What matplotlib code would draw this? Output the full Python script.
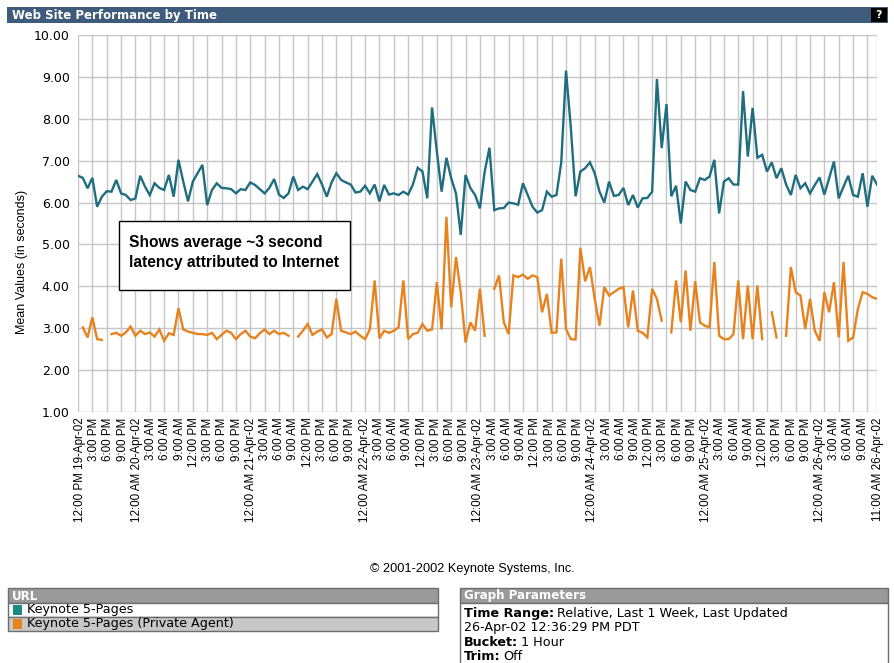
import numpy as np
import matplotlib
matplotlib.use("Agg")
import matplotlib.pyplot as plt
from matplotlib.patches import Rectangle
from matplotlib.transforms import ScaledTranslation

W, H = 895, 663

# Hourly buckets: 12:00 PM 19-Apr-02 (hour 0) through 11:00 AM 26-Apr-02 (hour 167)
hours = np.arange(168)

keynote_5_pages = [
    6.64, 6.59, 6.34, 6.59, 5.90, 6.14, 6.27, 6.26, 6.54, 6.22,
    6.18, 6.06, 6.10, 6.64, 6.38, 6.18, 6.46, 6.35, 6.30, 6.66,
    6.14, 7.02, 6.50, 6.03, 6.50, 6.70, 6.90, 5.94, 6.30, 6.46,
    6.35, 6.34, 6.32, 6.22, 6.32, 6.30, 6.48, 6.42, 6.32, 6.22,
    6.35, 6.56, 6.19, 6.11, 6.22, 6.62, 6.30, 6.38, 6.32, 6.50,
    6.68, 6.43, 6.14, 6.48, 6.70, 6.54, 6.48, 6.43, 6.24, 6.26,
    6.40, 6.22, 6.43, 6.03, 6.42, 6.19, 6.22, 6.18, 6.26, 6.19,
    6.43, 6.83, 6.74, 6.10, 8.27, 7.22, 6.26, 7.07, 6.58, 6.22,
    5.23, 6.66, 6.35, 6.18, 5.86, 6.74, 7.31, 5.82, 5.86, 5.87,
    6.00, 5.98, 5.95, 6.46, 6.18, 5.90, 5.76, 5.82, 6.26, 6.14,
    6.18, 6.95, 9.15, 7.80, 6.15, 6.74, 6.82, 6.96, 6.70, 6.26,
    6.00, 6.50, 6.16, 6.18, 6.35, 5.94, 6.18, 5.88, 6.10, 6.11,
    6.26, 8.95, 7.30, 8.35, 6.15, 6.40, 5.50, 6.50, 6.30, 6.26,
    6.58, 6.54, 6.62, 7.02, 5.74, 6.50, 6.58, 6.43, 6.43, 8.66,
    7.10, 8.26, 7.07, 7.14, 6.74, 6.96, 6.58, 6.82, 6.43, 6.18,
    6.66, 6.34, 6.46, 6.22, 6.42, 6.60, 6.19, 6.58, 6.98, 6.10,
    6.38, 6.64, 6.18, 6.14, 6.70, 5.90, 6.64, 6.43,
]

keynote_5_pages_private = [
    None, 3.02, 2.78, 3.26, 2.74, 2.72, None, 2.86, 2.89, 2.82,
    2.90, 3.04, 2.82, 2.94, 2.86, 2.90, 2.80, 2.97, 2.70, 2.88,
    2.84, 3.48, 2.97, 2.92, 2.89, 2.86, 2.86, 2.84, 2.89, 2.74,
    2.84, 2.94, 2.89, 2.74, 2.86, 2.94, 2.80, 2.76, 2.88, 2.97,
    2.86, 2.94, 2.86, 2.89, 2.82, None, 2.80, 2.94, 3.10, 2.84,
    2.92, 2.97, 2.78, 2.86, 3.70, 2.94, 2.90, 2.86, 2.92, 2.82,
    2.74, 2.97, 4.14, 2.76, 2.94, 2.89, 2.94, 3.02, 4.14, 2.74,
    2.86, 2.89, 3.10, 2.94, 2.97, 4.10, 2.97, 5.66, 3.50, 4.70,
    3.86, 2.66, 3.14, 2.94, 3.94, 2.82, None, 3.94, 4.26, 3.14,
    2.86, 4.26, 4.22, 4.28, 4.18, 4.26, 4.22, 3.38, 3.82, 2.89,
    2.90, 4.66, 2.98, 2.74, 2.73, 4.92, 4.12, 4.46, 3.70, 3.06,
    3.98, 3.78, 3.86, 3.94, 3.98, 3.02, 3.90, 2.94, 2.89, 2.78,
    3.94, 3.70, 3.18, None, 2.90, 4.14, 3.14, 4.38, 2.94, 4.12,
    3.14, 3.06, 3.02, 4.58, 2.82, 2.74, 2.74, 2.86, 4.14, 2.74,
    4.02, 2.74, 4.02, 2.74, None, 3.38, 2.78, None, 2.82, 4.46,
    3.86, 3.78, 2.98, 3.70, 2.94, 2.70, 3.86, 3.38, 4.10, 2.78,
    4.58, 2.70, 2.78, 3.46, 3.86, 3.82, 3.74, 3.70,
]

tick_hours = list(range(0, 166, 3)) + [167]
tick_labels = [
    "12:00 PM 19-Apr-02", "3:00 PM", "6:00 PM", "9:00 PM",
    "12:00 AM 20-Apr-02", "3:00 AM", "6:00 AM", "9:00 AM",
    "12:00 PM", "3:00 PM", "6:00 PM", "9:00 PM",
    "12:00 AM 21-Apr-02", "3:00 AM", "6:00 AM", "9:00 AM",
    "12:00 PM", "3:00 PM", "6:00 PM", "9:00 PM",
    "12:00 AM 22-Apr-02", "3:00 AM", "6:00 AM", "9:00 AM",
    "12:00 PM", "3:00 PM", "6:00 PM", "9:00 PM",
    "12:00 AM 23-Apr-02", "3:00 AM", "6:00 AM", "9:00 AM",
    "12:00 PM", "3:00 PM", "6:00 PM", "9:00 PM",
    "12:00 AM 24-Apr-02", "3:00 AM", "6:00 AM", "9:00 AM",
    "12:00 PM", "3:00 PM", "6:00 PM", "9:00 PM",
    "12:00 AM 25-Apr-02", "3:00 AM", "6:00 AM", "9:00 AM",
    "12:00 PM", "3:00 PM", "6:00 PM", "9:00 PM",
    "12:00 AM 26-Apr-02", "3:00 AM", "6:00 AM", "9:00 AM",
    "11:00 AM 26-Apr-02",
]
y_ticks = [1, 2, 3, 4, 5, 6, 7, 8, 9, 10]

series_names = ["Keynote 5-Pages", "Keynote 5-Pages (Private Agent)"]
TEAL = "#1f6e80"
ORANGE = "#e8821e"
TEAL_KEY = "#1a8a84"
ORANGE_KEY = "#e8841c"

public = np.array(keynote_5_pages, dtype=float)
private = np.array([np.nan if v is None else v for v in keynote_5_pages_private], dtype=float)

fig = plt.figure(figsize=(W / 100, H / 100), dpi=100)
fig.patch.set_facecolor("white")

# plot area in pixel coordinates
X0, X1, Y0, Y1 = 78, 877, 35, 412
ax = fig.add_axes([X0 / W, 1 - Y1 / H, (X1 - X0) / W, (Y1 - Y0) / H])
ax.set_xlim(0, 167)
ax.set_ylim(1, 10)
for s in ax.spines.values():
    s.set_visible(False)
ax.set_xticks(tick_hours)
ax.set_xticklabels(tick_labels, rotation=90, fontsize=8.4,
                   family="Liberation Sans", va="top", ha="center")
ax.set_yticks(y_ticks)
ax.set_yticklabels([f"{v:.2f}" for v in y_ticks], fontsize=9, family="DejaVu Sans")
ax.tick_params(axis="both", length=0)
ax.tick_params(axis="x", pad=4)
ax.tick_params(axis="y", pad=6)
ax.grid(True, color="#c6c6c6", linewidth=1.0)
ax.set_axisbelow(True)

# the labels run on a slightly tighter pitch than the grid, which leaves
# room between the last two close ticks
px_per_hour = (X1 - X0) / 167.0
xlabels = ax.get_xticklabels()
for i, lab in enumerate(xlabels[:-1]):
    target = 80.0 + i * (862.7 - 80.0) / 55.0
    dx = target - (X0 + tick_hours[i] * px_per_hour)
    lab.set_transform(lab.get_transform()
                      + ScaledTranslation(dx / 100, 0, fig.dpi_scale_trans))
xlabels[-1].set_transform(xlabels[-1].get_transform()
                          + ScaledTranslation(1.0 / 100, 0, fig.dpi_scale_trans))

ax.plot(hours, private, color=ORANGE, linewidth=1.7, solid_joinstyle="miter")
ax.plot(hours, public, color=TEAL, linewidth=1.7, solid_joinstyle="miter")

# overlay in pixel coordinates for the page furniture
ov = fig.add_axes([0, 0, 1, 1], zorder=5)
ov.set_xlim(0, W)
ov.set_ylim(H, 0)
ov.axis("off")
ov.patch.set_alpha(0)

# title bar
ov.add_patch(Rectangle((7, 7), 881, 16, facecolor="#3e5b7b", edgecolor="none"))
ov.text(12, 15.5, "Web Site Performance by Time", color="white", fontsize=8.5,
        fontweight="bold", family="DejaVu Sans", va="center", ha="left")
ov.add_patch(Rectangle((871, 8), 16, 14, facecolor="black", edgecolor="none"))
ov.text(879, 15.5, "?", color="white", fontsize=8, fontweight="bold",
        family="DejaVu Sans", va="center", ha="center")

# y-axis title
ov.text(22, 262, "Mean Values (in seconds)", rotation=90, fontsize=9,
        family="Liberation Sans", va="center", ha="center")

# callout box
ov.add_patch(Rectangle((119, 221), 231, 69, facecolor="white",
                       edgecolor="black", linewidth=1.0))
ov.text(129, 243, "Shows average ~3 second", fontsize=11.2, fontweight="bold",
        family="Liberation Sans", va="center", ha="left")
ov.text(129, 262, "latency attributed to Internet", fontsize=11.2, fontweight="bold",
        family="Liberation Sans", va="center", ha="left")

# copyright
ov.text(472, 569, "\u00a9 2001-2002 Keynote Systems, Inc.", fontsize=9.2,
        family="Liberation Sans", va="center", ha="center")

# URL key table
BORDER = "#6e6e6e"
HEAD = "#9a9a9a"
TXT = 9.2
ov.add_patch(Rectangle((8, 588), 430, 15, facecolor=HEAD, edgecolor=BORDER, linewidth=1))
ov.text(12, 596, "URL", color="white", fontsize=8.6, fontweight="bold",
        family="DejaVu Sans", va="center", ha="left")
ov.add_patch(Rectangle((8, 603), 430, 14, facecolor="white", edgecolor=BORDER, linewidth=1))
ov.add_patch(Rectangle((8, 617), 430, 14, facecolor="#c8c8c8", edgecolor=BORDER, linewidth=1))
for i, (name, col) in enumerate(zip(series_names, [TEAL_KEY, ORANGE_KEY])):
    yc = 610 + 14 * i
    ov.add_patch(Rectangle((13, yc - 5), 9, 10, facecolor=col, edgecolor="none"))
    ov.text(27, yc, name, fontsize=TXT, family="DejaVu Sans", va="center", ha="left")

# graph parameters table
ov.add_patch(Rectangle((460, 588), 428, 15, facecolor=HEAD, edgecolor=BORDER, linewidth=1))
ov.text(464, 596, "Graph Parameters", color="white", fontsize=8.6, fontweight="bold",
        family="DejaVu Sans", va="center", ha="left")
ov.add_patch(Rectangle((460, 603), 428, 70, facecolor="white", edgecolor=BORDER, linewidth=1))

fig.canvas.draw()
renderer = fig.canvas.get_renderer()


def label_value(x, y, label, value):
    t = ov.text(x, y, label, fontsize=TXT, fontweight="bold", family="DejaVu Sans",
                va="center", ha="left")
    w = t.get_window_extent(renderer=renderer).width
    ov.text(x + w + 3, y, value, fontsize=TXT, family="DejaVu Sans",
            va="center", ha="left")


label_value(464, 614, "Time Range:", "Relative, Last 1 Week, Last Updated")
ov.text(464, 628, "26-Apr-02 12:36:29 PM PDT", fontsize=TXT, family="DejaVu Sans",
        va="center", ha="left")
label_value(464, 642, "Bucket:", "1 Hour")
label_value(464, 656, "Trim:", "Off")

fig.savefig("out.png", dpi=100)
